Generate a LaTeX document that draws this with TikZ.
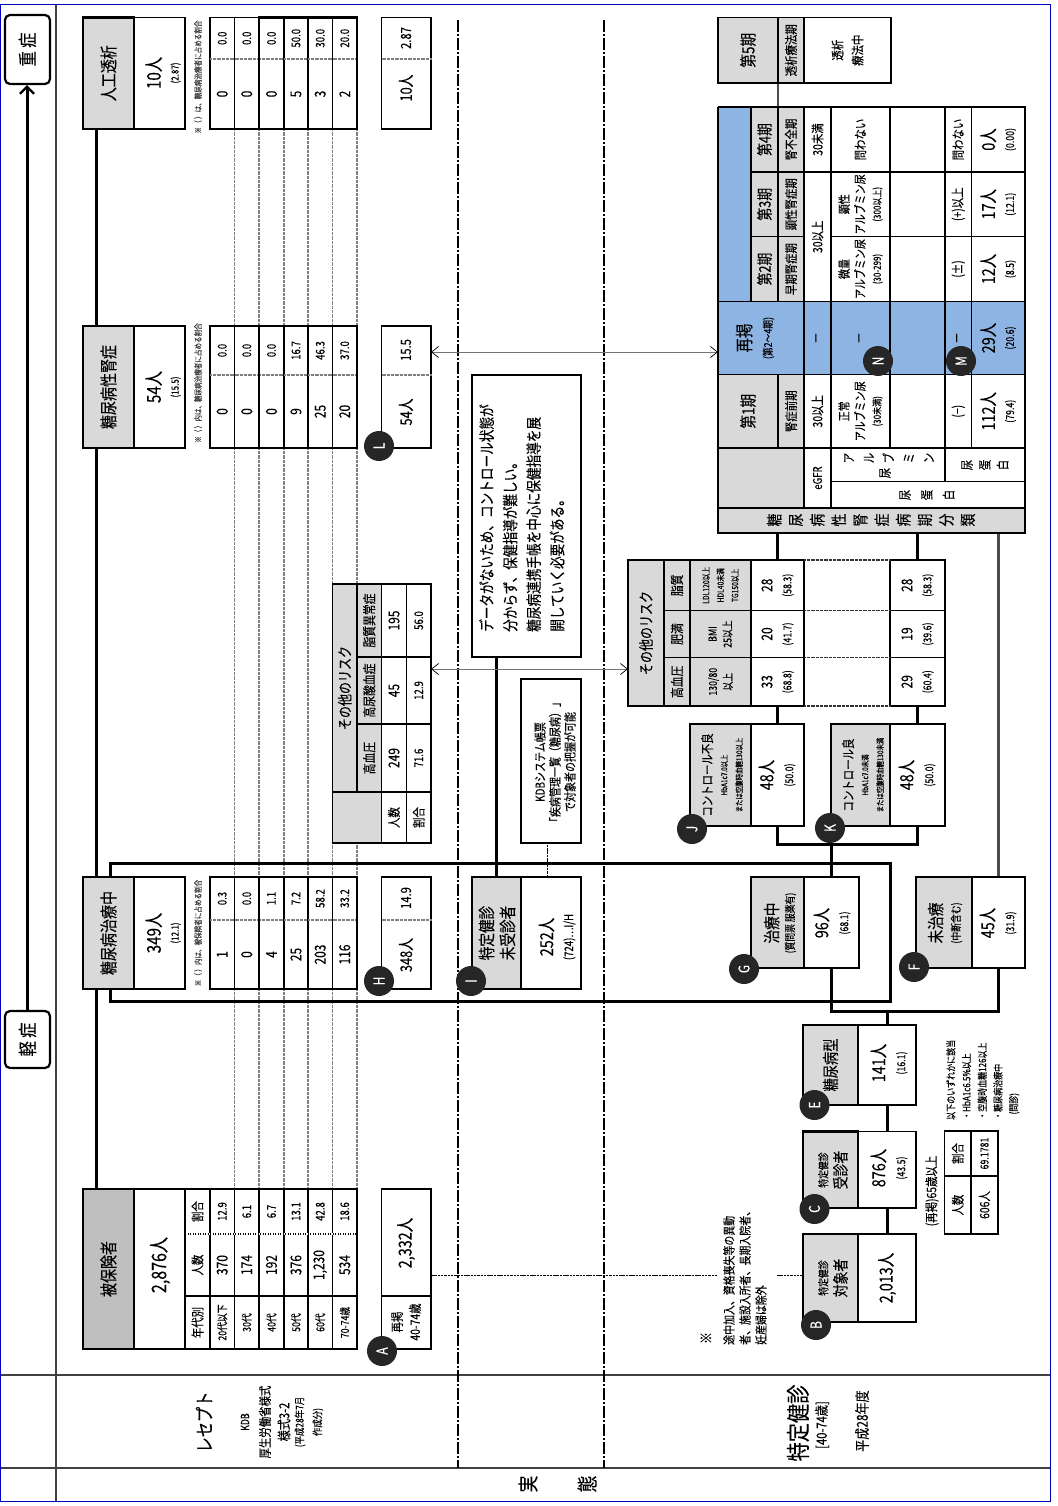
\documentclass[tikz,border=0pt]{standalone}
\usepackage{fontspec}
\setmainfont{Noto Sans CJK JP}[FakeStretch=0.8,FakeBold=0.15]
\usetikzlibrary{arrows.meta,calc}
\pgfdeclarelayer{bg}\pgfsetlayers{bg,main}
\definecolor{gbox}{HTML}{D9D9D9}
\definecolor{gdark}{HTML}{BFBFBF}
\definecolor{bluecell}{HTML}{8DB4E2}
\definecolor{framec}{HTML}{0000C0}
\definecolor{badgec}{HTML}{262626}
\newcommand\fs[1]{\fontsize{#1}{\fpeval{#1*1.2}}\selectfont}
\newcommand\fb[2]{\fontsize{#1}{#2}\selectfont}
\newcounter{autoname}
\tikzset{
  cellbase/.style={rotate=90,inner sep=0pt,outer sep=0pt,align=center,font=\fs{14}},
  wcell/.style={cellbase,draw=black,line width=1.3pt,fill=white},
  gcell/.style={cellbase,draw=black,line width=2.2pt,fill=gbox},
  gthin/.style={cellbase,draw=black,line width=1.3pt,fill=gbox},
  bcell/.style={cellbase,draw=black,line width=1.3pt,fill=bluecell},
  label/.style={rotate=90,inner sep=0pt,align=center,font=\fs{14}},
  badge/.style={circle,fill=badgec,draw=none,text=white,rotate=90,inner sep=0pt,minimum size=30pt,font=\fs{15}},
  trunk/.style={line width=3pt,draw=black},
  midtrunk/.style={line width=2.2pt,draw=black!70},
  dashdot/.style={line width=1.5pt,draw=black,dash pattern=on 12pt off 2pt on 2pt off 2pt},
  finedash/.style={line width=.9pt,draw=black,dash pattern=on 2.5pt off .8pt},
  dots/.style={line width=1.3pt,draw=black!50,dash pattern=on .8pt off .5pt},
  twoway/.style={line width=1pt,draw=black!55,{Straight Barb[length=7pt,width=11pt,line width=.7pt,black]}-{Straight Barb[length=7pt,width=11pt,line width=.7pt,black]}},
}
% \bx[opts]{name}{x0}{y0}{x1}{y1}{text}
\newcommand\bx[7][wcell]{%
  \pgfmathsetmacro\cxx{(#3+#5)/2}\pgfmathsetmacro\cyy{-(#4+#6)/2}%
  \pgfmathsetmacro\bww{#6-#4}\pgfmathsetmacro\bhh{#5-#3}%
  \node[minimum width=\bww pt,minimum height=\bhh pt,#1] (#2) at (\cxx pt,\cyy pt) {#7};}
% \tx[opts]{x}{y}{text}
\newcommand\tx[4][]{%
  \stepcounter{autoname}%
  \node[label,#1] (t\theautoname) at (#2pt,-#3pt) {#4};}
\newcommand\bd[3]{\node[badge] (badge#1) at (#2pt,-#3pt) {#1};}
% \agetable{name}{y0}{ymid}{y1}{6 pairs}
\newcommand\agetable[5]{%
  \foreach \xa/\xb/\nn/\pp [count=\ii] in {#5}{%
    \bx{#1\ii}{\xa}{#2}{\xb}{#4}{}%
    \pgfmathsetmacro\xc{(\xa+\xb)/2}\pgfmathsetmacro\yn{(#3+#4)/2}\pgfmathsetmacro\yp{(#2+#3)/2}%
    \tx[font=\fs{15}]{\xc}{\yn}{\nn}%
    \tx[font=\fs{12}]{\xc}{\yp}{\pp}%
    \draw[dots] (\xa pt,-#3pt) -- (\xb pt,-#3pt);
  }%
  \draw[line width=2.2pt] (259pt,-#2pt) rectangle (357pt,-#4pt);
}
\begin{document}
\begin{tikzpicture}[x=1pt,y=1pt]
\useasboundingbox (0pt,0pt) rectangle (1057pt,-1506pt);
\begin{pgfonlayer}{bg}
\fill[white] (0pt,0pt) rectangle (1057pt,-1506pt);
\end{pgfonlayer}
% free coordinates
\coordinate (x27) at (27pt,0pt);
\coordinate (x96) at (96pt,0pt);
\coordinate (x496) at (496pt,0pt);
\coordinate (x547) at (547pt,0pt);
\coordinate (x778) at (778pt,0pt);
\coordinate (brTL) at (110pt,-863pt);
\coordinate (brBR) at (890pt,-1001pt);
\coordinate (y352) at (0pt,-352pt);
\coordinate (y669) at (0pt,-669pt);
\coordinate (y1276) at (0pt,-1275.7pt);
\coordinate (noteL) at (717pt,-1275.7pt);
\coordinate (noteR) at (777pt,-1275.7pt);
\coordinate (cut1a) at (458pt,-20pt);
\coordinate (cut1b) at (458pt,-1468pt);
\coordinate (cut2a) at (604pt,-20pt);
\coordinate (cut2b) at (604pt,-1468pt);
\coordinate (fr1) at (.7pt,-4.7pt);
\coordinate (fr2) at (1050.3pt,-1501.5pt);
\coordinate (c561) at (56pt,-4.7pt);
\coordinate (c562) at (56pt,-1501.5pt);
\coordinate (h1a) at (.7pt,-1375pt);
\coordinate (h1b) at (1050pt,-1375pt);
\coordinate (h2a) at (.7pt,-1468pt);
\coordinate (h2b) at (1050pt,-1468pt);

% ---- left severity
\node[rotate=90,draw,line width=2.2pt,rounded corners=5pt,fill=white,inner sep=0pt,minimum width=69pt,minimum height=45pt,font=\fs{19}] (heavy) at (27.5pt,-49.5pt) {重 症};
\node[rotate=90,draw,line width=2.2pt,rounded corners=5pt,fill=white,inner sep=0pt,minimum width=57pt,minimum height=45pt,font=\fs{19}] (light) at (27.5pt,-1039.5pt) {軽 症};

% ---- top row main boxes
\bx[gcell]{gtz}{83}{17.5}{134}{129}{\fs{17.5}人工透析}
\bx{wtz}{134}{17.5}{185}{129}{}
\bx[gcell]{gjs}{83}{326}{134}{448}{\fs{17.5}糖尿病性腎症}
\bx{wjs}{134}{326}{185}{448}{}
\bx[gcell]{gtc}{83}{877}{134}{989}{\fs{17.5}糖尿病治療中}
\bx{wtc}{134}{877}{185}{989}{}
\bx[gcell,fill=gdark]{ghk}{83}{1189}{134}{1349}{\fs{17.5}被保険者}
\bx{whk}{134}{1189}{185}{1349}{}
\tx[font=\fb{19}{18}]{163}{73}{10人\\{\fs{10}(2.87)}}
\tx[font=\fb{19}{18}]{163}{387}{54人\\{\fs{10}(15.5)}}
\tx[font=\fb{19}{18}]{163}{933}{349人\\{\fs{10}(12.1)}}
\tx[font=\fs{20}]{160}{1265}{2,876人}
\tx[font=\fs{8.2},text=black!75]{198}{77}{※（ ）は、糖尿病治療者に占める割合}
\tx[font=\fs{8.2},text=black!75]{198}{383}{※（ ）内は、糖尿病治療者に占める割合}
\tx[font=\fs{8.2},text=black!75]{198}{933}{※（ ）内は、被保険者に占める割合}

% ---- age tables
\agetable{ta}{17.5}{59}{129}{210/234.5/0/0.0,234.5/259/0/0.0,259/284/0/0.0,284/308/5/50.0,308/332.5/3/30.0,332.5/357/2/20.0}
\agetable{tb}{326}{375}{448}{210/234.5/0/0.0,234.5/259/0/0.0,259/284/0/0.0,284/308/9/16.7,308/332.5/25/46.3,332.5/357/20/37.0}
\agetable{tc}{877}{920}{989}{210/234.5/1/0.3,234.5/259/0/0.0,259/284/4/1.1,284/308/25/7.2,308/332.5/203/58.2,332.5/357/116/33.2}
% insured table
\bx{hh1}{185}{1296}{210}{1349}{\fs{13}年代別}
\bx{hh2}{185}{1234}{210}{1296}{\fs{13}人数}
\bx{hh3}{185}{1189}{210}{1234}{\fs{13}割合}
\foreach \xa/\xb/\aa/\nn/\pp [count=\ii] in {210/234.5/20代以下/370/12.9,234.5/259/30代/174/6.1,259/284/40代/192/6.7,284/308/50代/376/13.1,308/332.5/60代/1{,}230/42.8,332.5/357/70-74歳/534/18.6}{
  \bx{ha\ii}{\xa}{1296}{\xb}{1349}{\fs{11}\aa}
  \bx{hn\ii}{\xa}{1234}{\xb}{1296}{\fs{15}\nn}
  \bx{hp\ii}{\xa}{1189}{\xb}{1234}{\fs{12}\pp}
}
\draw[line width=2.2pt] (259pt,-1189pt) rectangle (357pt,-1349pt);
\draw[line width=1.3pt,white,dash pattern=on 1.5pt off 1pt] (186pt,-1234pt) -- (356pt,-1234pt);

% ---- second column small boxes
\bx{wtz2}{381.5}{17.5}{431}{129}{}
\tx[font=\fs{16}]{406}{88}{10人}\tx[font=\fs{14}]{406}{38}{2.87}
\draw[dots] (381.5pt,-59pt) -- (431pt,-59pt);
\bx{wjs2}{381.5}{326}{431}{448}{}
\tx[font=\fs{16}]{406}{412}{54人}\tx[font=\fs{14}]{406}{350}{15.5}
\draw[dots] (381.5pt,-375pt) -- (431pt,-375pt);
\bx{wtc2}{381.5}{877}{431}{989}{}
\tx[font=\fs{16}]{406}{955}{348人}\tx[font=\fs{14}]{406}{898}{14.9}
\draw[dots] (381.5pt,-920pt) -- (431pt,-920pt);
\bx{wa}{381.5}{1189}{431}{1349}{}
\draw[line width=1.3pt] (381.5pt,-1296pt) -- (431pt,-1296pt);
\tx[font=\fs{18}]{406}{1243}{2,332人}
\tx[font=\fb{13}{18}]{406}{1322}{再掲\\40-74歳}

% ---- risk table 1
\bx[gthin]{r1h}{332.5}{584}{357}{792}{\fs{15}その他のリスク}
\bx[gthin]{r1c}{332.5}{792}{381.5}{843}{}
\bx[gthin]{r1a}{357}{584}{381.5}{657}{\fs{13.5}脂質異常症}
\bx[gthin]{r1b}{357}{657}{381.5}{724}{\fs{13.5}高尿酸血症}
\bx[gthin]{r1d}{357}{724}{381.5}{792}{\fs{13.5}高血圧}
\bx{r1n0}{381.5}{792}{406.5}{843}{\fs{13}人数}
\bx{r1p0}{406.5}{792}{431}{843}{\fs{13}割合}
\bx{r1n1}{381.5}{724}{406.5}{792}{\fs{15}249}
\bx{r1p1}{406.5}{724}{431}{792}{\fs{12}71.6}
\bx{r1n2}{381.5}{657}{406.5}{724}{\fs{15}45}
\bx{r1p2}{406.5}{657}{431}{724}{\fs{12}12.9}
\bx{r1n3}{381.5}{584}{406.5}{657}{\fs{15}195}
\bx{r1p3}{406.5}{584}{431}{657}{\fs{12}56.0}

% ---- text box and not-screened
\bx[wcell,line width=1.6pt]{msg}{472}{375}{581}{657}{}
\tx[anchor=north west,align=left,font=\fb{15.8}{23.5}]{479}{632}{データがないため、コントロール状態が\\分からず、保健指導が難しい。\\糖尿病連携手帳を中心に保健指導を展\\開していく必要がある。}
\bx[wcell,line width=1.6pt]{kdb}{521}{679}{581}{843}{}
\tx[font=\fb{12.5}{15}]{555}{762}{KDBシステム帳票\\「疾病管理一覧（糖尿病）」\\で対象者の把握が可能}
\bx[gcell]{gi}{472}{877}{521}{989}{}
\tx[font=\fb{17}{21}]{497}{933}{特定健診\\未受診者}
\bx[wcell,line width=1.6pt]{wi}{521}{877}{581}{989}{}
\tx[font=\fb{18}{20}]{557}{937}{252人\\{\fs{12}(724)…I/H}}

% ---- J, K, G, F
\bx[gcell]{gj}{690}{724}{751}{826}{}
\tx[font=\fb{13}{15}]{722}{775}{コントロール不良\\{\fs{8}HbA1c7.0以上}\\{\fs{8}または空腹時血糖130以上}}
\bx{jw}{751}{724}{804}{826}{}
\tx[font=\fb{18}{20}]{777}{775}{48人\\{\fs{11}(50.0)}}
\bx[gcell]{gk}{831}{724}{890}{826}{}
\tx[font=\fb{13}{15}]{863}{775}{コントロール良\\{\fs{8}HbA1c7.0未満}\\{\fs{8}または空腹時血糖130未満}}
\bx{kw}{890}{724}{945}{826}{}
\tx[font=\fb{18}{20}]{917}{775}{48人\\{\fs{11}(50.0)}}
\bx[gcell]{gg}{751}{877}{804}{968}{}
\tx[font=\fb{17}{16}]{780}{923}{治療中\\{\fs{11}(質問票 服薬有)}}
\bx[wcell,line width=1.6pt]{gw}{804}{877}{859}{968}{}
\tx[font=\fb{18}{20}]{832}{923}{96人\\{\fs{11}(68.1)}}
\bx[gcell]{gf}{916}{877}{972}{968}{}
\tx[font=\fb{17}{18}]{945}{923}{未治療\\{\fs{11}(中断含む)}}
\bx[wcell,line width=1.6pt]{fw}{972}{877}{1025}{968}{}
\tx[font=\fb{18}{20}]{998}{923}{45人\\{\fs{11}(31.9)}}

% ---- risk table 2
\bx[gthin]{r2h}{628}{560}{664}{706}{\fs{15}その他のリスク}
\bx[gthin]{r2a}{664}{560}{690}{610.5}{\fs{13.5}脂質}
\bx[gthin]{r2b}{664}{610.5}{690}{657.5}{\fs{13.5}肥満}
\bx[gthin]{r2c}{664}{657.5}{690}{706}{\fs{13.5}高血圧}
\bx[gthin,font=\fb{8.5}{14.5}]{r2a2}{690}{560}{751}{610.5}{LDL120以上\\HDL40未満\\TG150以上}
\bx[gthin,font=\fb{11}{15}]{r2b2}{690}{610.5}{751}{657.5}{BMI\\25以上}
\bx[gthin,font=\fb{11}{15}]{r2c2}{690}{657.5}{751}{706}{130/80\\以上}
\bx[wcell,font=\fb{15}{19}]{r28a}{751}{560}{804}{610.5}{28\\{\fs{11}(58.3)}}
\bx[wcell,font=\fb{15}{19}]{r20}{751}{610.5}{804}{657.5}{20\\{\fs{11}(41.7)}}
\bx[wcell,font=\fb{15}{19}]{r33}{751}{657.5}{804}{706}{33\\{\fs{11}(68.8)}}
\bx[wcell,font=\fb{15}{19}]{r28b}{890}{560}{945}{610.5}{28\\{\fs{11}(58.3)}}
\bx[wcell,font=\fb{15}{19}]{r19}{890}{610.5}{945}{657.5}{19\\{\fs{11}(39.6)}}
\bx[wcell,font=\fb{15}{19}]{r29}{890}{657.5}{945}{706}{29\\{\fs{11}(60.4)}}
\draw[dots,black!80] (804pt,-560pt) -- (890pt,-560pt) (804pt,-610.5pt) -- (890pt,-610.5pt) (804pt,-657.5pt) -- (890pt,-657.5pt) (804pt,-706pt) -- (890pt,-706pt);

% ---- classification table
\bx[gthin,line width=1.6pt]{g5a}{718}{17.5}{778}{83}{\fs{17}第5期}
\bx[gthin]{g5b}{778}{17.5}{804}{83}{\fs{13}透析療法期}
\bx[wcell,line width=1.6pt,font=\fb{13}{20}]{g5c}{804}{17.5}{891}{83}{透析\\療法中}
\fill[bluecell] (718pt,-107pt) rectangle (751pt,-301.5pt);
\draw[line width=1.3pt] (718pt,-107pt) -- (751pt,-107pt) (718pt,-107pt) -- (718pt,-301.5pt);
% stage 4,3,2
\foreach \ya/\yb/\st/\nm/\nn/\pr/\uo [count=\ii] in {
 107/172/第4期/腎不全期/0人/(0.00)/問わない,
 172/236.5/第3期/顕性腎症期/17人/(12.1)/(+)以上,
 236.5/301.5/第2期/早期腎症期/12人/(8.5)/(±)}{
  \bx[gthin]{st\ii}{751}{\ya}{778}{\yb}{\fs{16}\st}
  \bx[gthin]{nm\ii}{778}{\ya}{804}{\yb}{\fs{13}\nm}
  \bx{bl\ii}{890}{\ya}{945}{\yb}{}
  \bx{uo\ii}{945}{\ya}{971.5}{\yb}{\fs{13}\uo}
  \bx[wcell,font=\fb{18}{19}]{nu\ii}{971.5}{\ya}{1025}{\yb}{\nn\\{\fs{11}\pr}}
}
\bx{eg4}{804}{107}{831}{172}{\fs{13}30未満}
\bx{eg3}{804}{172}{831}{301.5}{\fs{13}30以上}
\bx{al4}{831}{107}{890}{172}{\fs{13}問わない}
\bx[wcell,font=\fb{12.5}{16}]{al3}{831}{172}{890}{236.5}{顕性\\アルブミン尿\\{\fs{10}(300以上)}}
\bx[wcell,font=\fb{12.5}{16}]{al2}{831}{236.5}{890}{301.5}{微量\\アルブミン尿\\{\fs{10}(30-299)}}
% reprint row
\bx[bcell]{rp0}{718}{301.5}{804}{374.5}{}
\tx[font=\fb{18}{21}]{755}{338}{再掲\\{\fs{11}(第2～4期)}}
\bx[bcell]{rp1}{804}{301.5}{831}{374.5}{\fs{13}—}
\bx[bcell]{rp2}{831}{301.5}{890}{374.5}{\fs{13}—}
\bx[bcell]{rp3}{890}{301.5}{945}{374.5}{}
\bx[bcell]{rp4}{945}{301.5}{971.5}{374.5}{\fs{13}—}
\bx[bcell,font=\fb{18}{19}]{rp5}{971.5}{301.5}{1025}{374.5}{29人\\{\fs{11}(20.6)}}
% stage 1
\bx[gthin]{st0}{718}{374.5}{778}{448}{\fs{17}第1期}
\bx[gthin]{nm0}{778}{374.5}{804}{448}{\fs{13}腎症前期}
\bx{eg1}{804}{374.5}{831}{448}{\fs{13}30以上}
\bx[wcell,font=\fb{12.5}{16}]{al1}{831}{374.5}{890}{448}{正常\\アルブミン尿\\{\fs{10}(30未満)}}
\bx{bl0}{890}{374.5}{945}{448}{}
\bx{uo0}{945}{374.5}{971.5}{448}{\fs{13}(−)}
\bx[wcell,font=\fb{18}{19}]{nu0}{971.5}{374.5}{1025}{448}{112人\\{\fs{11}(79.4)}}
% side labels
\bx[gthin]{lab0}{718}{448}{804}{508}{}
\bx{lab1}{804}{448}{831}{508}{\fs{12}eGFR}
\bx{lab2}{831}{448}{945}{481.5}{}
\bx{lab3}{945}{448}{1025}{481.5}{}
\bx{lab4}{831}{481.5}{1025}{508}{}
\tx[font=\fb{13}{20}]{889}{458}{ア\\ル\\ブ\\ミ\\ン}
\tx[font=\fs{13}]{885}{473}{尿}
\tx[font=\fb{13}{18}]{985}{465}{尿\\蛋\\白}
\tx[font=\fb{13}{22}]{927}{495}{尿\\蛋\\白}
\bx[gthin]{band}{718}{508}{1025}{533}{}
\tx[font=\fb{16}{21.5}]{871}{520}{糖\\尿\\病\\性\\腎\\症\\病\\期\\分\\類}

% ---- E, C, B
\bx[gcell]{ge}{803}{1025}{858}{1105}{\fs{16.5}糖尿病型}
\bx{ew}{858}{1025}{916}{1105}{}
\tx[font=\fb{18}{20}]{889}{1063}{141人\\{\fs{11}(16.1)}}
\bx[gcell]{gc}{803}{1131.5}{858}{1208}{}
\tx[font=\fb{16}{19}]{833}{1170}{{\fs{11}特定健診}\\受診者}
\bx{cw}{858}{1131.5}{916}{1208}{}
\tx[font=\fb{18}{20}]{889}{1168}{876人\\{\fs{11}(43.5)}}
\bx[gcell]{gb}{803}{1234}{858}{1322}{}
\tx[font=\fb{16}{19}]{833}{1278}{{\fs{11}特定健診}\\対象者}
\bx{bw}{858}{1234}{916}{1322}{\fs{18}2,013人}
\tx[font=\fs{13}]{932}{1191}{(再掲)65歳以上}
\bx[wcell,line width=1.6pt]{s1}{944.5}{1176}{971}{1234}{\fs{13}人数}
\bx[wcell,line width=1.6pt]{s2}{944.5}{1131}{971}{1176}{\fs{13}割合}
\bx[wcell,line width=1.6pt]{s3}{971}{1176}{998}{1234}{\fs{13}606人}
\bx[wcell,line width=1.6pt]{s4}{971}{1131}{998}{1176}{\fs{11}69.1781}
\tx[anchor=north west,align=left,font=\fb{10}{15.7}]{946}{1120}{以下のいずれかに該当\\・HbA1c6.5\%以上\\・空腹時血糖126以上\\・糖尿病治療中\\\ \ \ (問診)}
\tx[font=\fs{15}]{706}{1338}{※}
\tx[anchor=north west,align=left,font=\fb{12.4}{16}]{723}{1345}{途中加入、資格喪失等の異動\\者、施設入所者、長期入院者、\\妊産婦は除外}

% ---- side headings
\tx[font=\fs{19}]{204}{1422}{レセプト}
\tx[font=\fs{11}]{245}{1422}{KDB}
\tx[font=\fs{13}]{265}{1422}{厚生労働省様式}
\tx[font=\fs{14}]{284}{1422}{様式3-2}
\tx[font=\fs{10.5}]{300}{1422}{(平成28年7月}
\tx[font=\fs{10.5}]{318}{1422}{作成分)}
\tx[font=\fs{24}]{798}{1423}{特定健診}
\tx[font=\fs{14}]{822}{1425}{[40-74歳]}
\tx[font=\fs{15}]{862}{1421}{平成28年度}
\tx[font=\fs{21}]{528}{1484}{実}
\tx[font=\fs{21}]{587}{1484}{態}

% ---- badges
\bd{A}{382}{1351}\bd{B}{816}{1325}\bd{C}{814.5}{1209}\bd{E}{814.5}{1105}
\bd{F}{914}{967}\bd{G}{744}{969}\bd{H}{379}{981}\bd{I}{471}{981}
\bd{J}{692}{829}\bd{K}{830}{828}\bd{L}{379}{446}\bd{M}{961}{361}\bd{N}{878}{361}

% ---- lines behind
\begin{pgfonlayer}{bg}
  \draw[line width=1.1pt,draw=black!75] (c561) -- (c562) (h1a) -- (h1b) (h2a) -- (h2b);
  \draw[dashdot] (cut1a) -- (cut1b);
  \draw[dashdot] (cut2a) -- (cut2b);
  % grey verticals between the age tables
  \foreach \xx in {234.5,259,284,308,332.5,357}{
    \draw[dots] (\xx pt,-129pt) -- (\xx pt,-326pt);
    \draw[dots] (\xx pt,-448pt) -- (\xx pt,-877pt);
    \draw[dots] (\xx pt,-989pt) -- (\xx pt,-1189pt);
  }
  \draw[trunk] (x96 |- ghk.east) -- (x96 |- gtz.west);
  \draw[trunk] (brTL) rectangle (brBR);
  \draw[trunk] (x496 |- gi.east) -- (x496 |- msg.west);
  \draw[finedash] (x547 |- wi.east) -- (x547 |- kdb.west);
  \draw[twoway] (r1p2.south |- y669) -- (r2h.north |- y669);
  \draw[twoway] (wjs2.south |- y352) -- (rp0.north |- y352);
  \draw[finedash] (wa.south |- y1276) -- (noteL);
  \draw[finedash] (noteR) -- (gb.north |- y1276);
  % tree
  \draw[trunk] (gw.east) -- ++(0pt,33pt) coordinate (jk);
  \draw[trunk] (jw.west) |- (jk) -| (kw.west);
  \draw[trunk] (gw.west) -- ++(0pt,-43pt) -| (fw.west);
  \draw[trunk] (ew.east) -- ++(0pt,14pt);
  \draw[trunk] (ew.west) -- (cw.east);
  \draw[trunk] (cw.west) -- (bw.east);
  \draw[trunk] (jw.east) -- (r33.west);
  \draw[trunk] (kw.east) -- (r29.west);
  \draw[trunk] (r28a.east) -- (r28a.east |- band.west);
  \draw[trunk] (r28b.east) -- (r28b.east |- band.west);
  \draw[midtrunk] (fw.east) -- (fw.east |- band.west);
  \draw[midtrunk] (x778 |- g5a.west) -- (x778 |- st1.east);
\end{pgfonlayer}
\draw[line width=3pt,-{Straight Barb[length=7pt,width=14pt,line width=2.4pt]}] (x27 |- light.east) -- (x27 |- heavy.west);
% outer frame
\draw[line width=1.3pt,framec] (fr1) rectangle (fr2);
\end{tikzpicture}
\end{document}
